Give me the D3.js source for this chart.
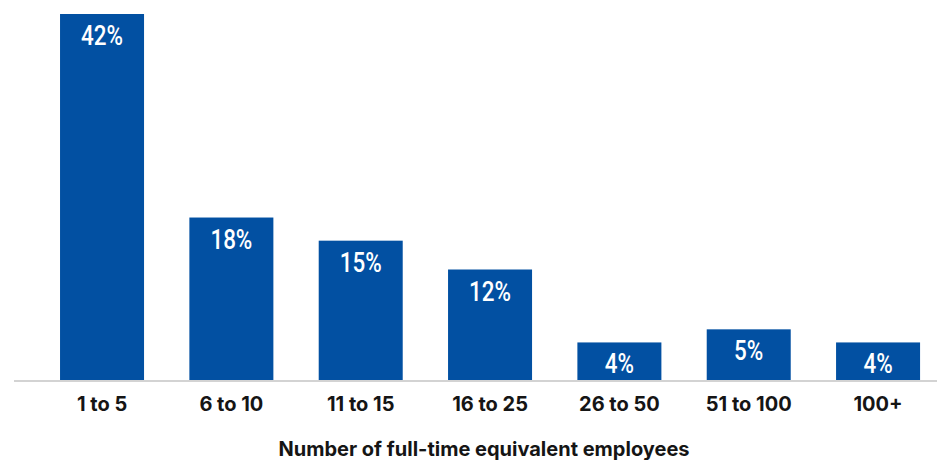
<!DOCTYPE html>
<html>
<head>
<meta charset="utf-8">
<script src="https://cdn.jsdelivr.net/npm/d3@7"></script>
<style>
  body { margin: 0; background: #fff; }
  .bar-label { font-family: "Roboto", sans-serif; font-weight: 500; font-size: 28px; fill: #fff; }
  .x-axis text { font-family: "Inter", "Lato", sans-serif; font-weight: 700; font-size: 20px; fill: #151515; }
  .axis-title { font-family: "Inter", "Lato", sans-serif; font-weight: 700; font-size: 20px; fill: #151515; }
</style>
</head>
<body>
<div id="chart"></div>
<script>
// data
const categories = ["1 to 5", "6 to 10", "11 to 15", "16 to 25", "26 to 50", "51 to 100", "100+"];
const values = [41.9, 18.6, 15.95, 12.65, 4.3, 5.8, 4.3];
const labels = ["42%", "18%", "15%", "12%", "4%", "5%", "4%"];
const xTitle = "Number of full-time equivalent employees";

const width = 937, height = 460;
const margins = { top: 14, bottom: 80, left: 37.4, right: -5.7 };

const svg = d3.select("#chart")
  .append("svg")
  .attr("width", width)
  .attr("height", height);

const xScale = d3.scaleBand()
  .domain(categories)
  .range([margins.left, width - margins.right])
  .paddingInner(0.3505)
  .paddingOuter(0.175);

const yScale = d3.scaleLinear()
  .domain([0, d3.max(values)])
  .range([height - margins.bottom, margins.top]);

const baseY = yScale(0);

// bars
svg.append("g")
  .selectAll("rect")
  .data(values)
  .join("rect")
  .attr("x", (d, i) => xScale(categories[i]))
  .attr("y", d => yScale(d))
  .attr("width", xScale.bandwidth())
  .attr("height", d => baseY - yScale(d))
  .attr("fill", "#0250a2");

// value labels inside bars (condensed look: squeeze horizontally)
svg.append("g")
  .selectAll("text")
  .data(values)
  .join("text")
  .attr("class", "bar-label")
  .attr("text-anchor", "middle")
  .attr("transform", (d, i) =>
    `translate(${xScale(categories[i]) + xScale.bandwidth() / 2},${yScale(d) + 31}) scale(0.8,1)`)
  .text((d, i) => labels[i]);

// baseline
svg.append("line")
  .attr("x1", 14)
  .attr("x2", width)
  .attr("y1", baseY + 1)
  .attr("y2", baseY + 1)
  .attr("stroke", "#d3d3d3")
  .attr("stroke-width", 2);

// x-axis
const xAxis = d3.axisBottom(xScale).tickSize(0).tickPadding(17);
svg.append("g")
  .attr("class", "x-axis")
  .attr("transform", `translate(0,${baseY})`)
  .call(xAxis)
  .call(g => g.select(".domain").remove())
  .selectAll("text")
  .attr("font-family", null)
  .attr("font-size", null);

svg.append("text")
  .attr("class", "axis-title")
  .attr("text-anchor", "middle")
  .attr("x", 484)
  .attr("y", 456)
  .text(xTitle);
</script>
</body>
</html>
